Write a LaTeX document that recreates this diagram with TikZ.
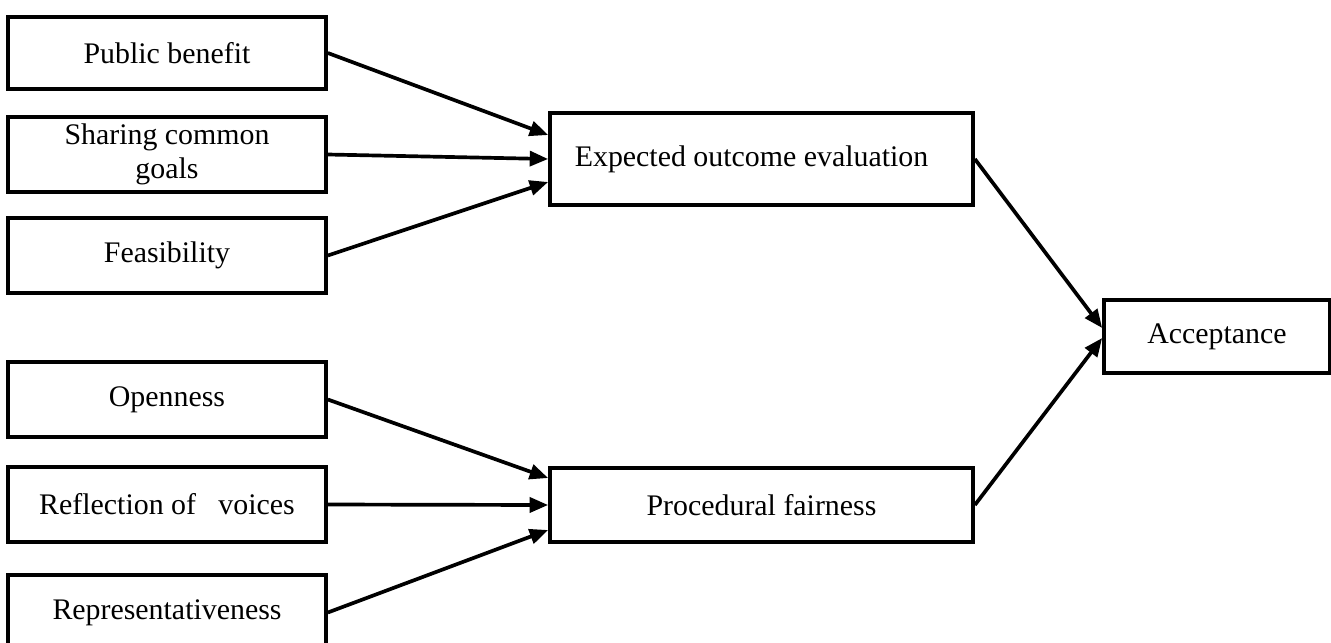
\documentclass[tikz,border=0pt]{standalone}
\usepackage{fontspec}
\setmainfont{Liberation Serif}
\usetikzlibrary{arrows.meta}

\begin{document}
\begin{tikzpicture}[
        box/.style={draw, line width=2.1pt, minimum width=6.36cm, minimum height=1.5cm, align=center, inner sep=2pt, font=\fontsize{17}{19}\selectfont},
        arr/.style={line width=2.1pt, -{Triangle[length=10.5pt, width=8.5pt]}}
    ]
        \useasboundingbox (0, 0) rectangle (26.62, -12.84);
        \node[box, minimum height=1.44cm] (pub) at (3.34, -1.06) {Public benefit};
        \node[box] (share) at (3.34, -3.09) {Sharing common\\goals};
        \node[box] (feas) at (3.34, -5.11) {Feasibility};
        \node[box] (open) at (3.34, -7.99) {Openness};
        \node[box] (refl) at (3.34, -10.09) {Reflection of \ \ voices};
        \node[box] (repr) at (3.34, -12.25) {Representativeness};
        \node[box, minimum width=8.46cm, minimum height=1.84cm] (expect) at (15.23, -3.18) {Expected outcome evaluation\hspace{0.4cm}};
        \node[box, minimum width=8.46cm, minimum height=1.48cm] (proc) at (15.23, -10.1) {Procedural fairness};
        \node[box, minimum width=4.52cm, minimum height=1.46cm] (accept) at (24.34, -6.73) {Acceptance};
        \draw[arr] (pub.east) -- ([yshift=0.48cm]expect.west);
        \draw[arr] (share.east) -- (expect.west);
        \draw[arr] (feas.east) -- ([yshift=-0.46cm]expect.west);
        \draw[arr] (open.east) -- ([yshift=0.54cm]proc.west);
        \draw[arr] (refl.east) -- (proc.west);
        \draw[arr] (repr.east) -- ([yshift=-0.5cm]proc.west);
        \draw[arr] (expect.east) -- ([yshift=0.17cm]accept.west);
        \draw[arr] (proc.east) -- ([yshift=-0.03cm]accept.west);
    \end{tikzpicture}
\end{document}
